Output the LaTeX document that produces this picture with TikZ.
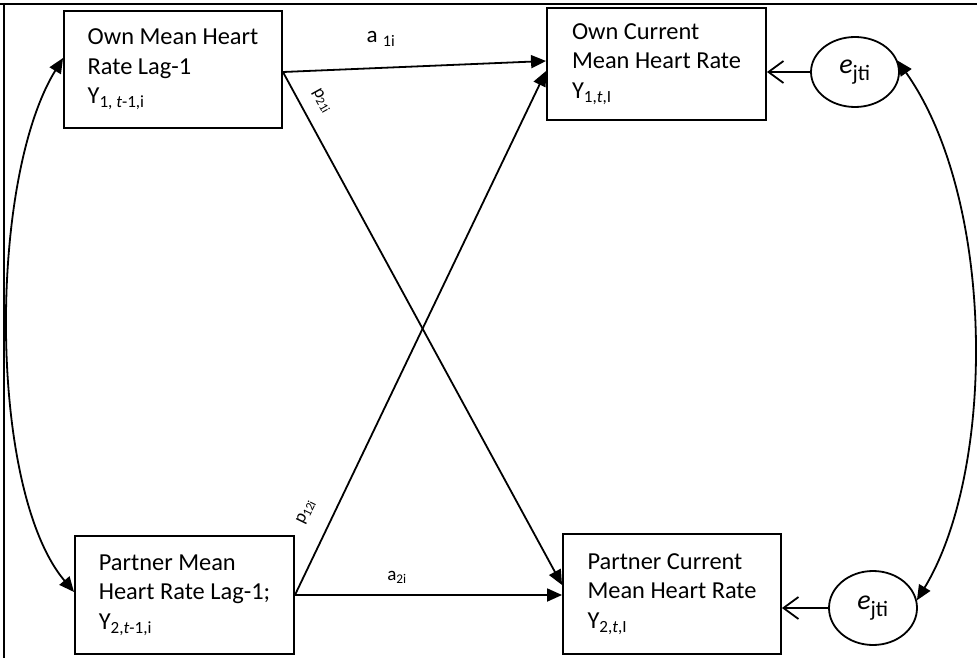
\documentclass[tikz,border=0pt]{standalone}
\usepackage{fontspec}
\setmainfont{Carlito}
\usetikzlibrary{arrows.meta,shapes.geometric}
\begin{document}
\begin{tikzpicture}[x=1pt,y=-1pt,
  box/.style={draw, line width=1.9pt, rectangle, inner sep=0pt, align=left,
    font=\fontsize{24.4}{29.5}\selectfont},
  errnode/.style={draw, ellipse, line width=1.8pt, inner sep=0pt,
    font=\fontsize{24.4}{29.5}\selectfont},
  pathline/.style={line width=1.8pt, -{Triangle[length=15pt,width=13pt]}},
  covline/.style={line width=1.8pt, {Triangle[length=15pt,width=13pt]}-{Triangle[length=15pt,width=13pt]}},
  errline/.style={line width=1.8pt, -{Straight Barb[length=15pt,width=22pt,line width=1.8pt]}},
  lbl/.style={inner sep=0pt},
  frameline/.style={line width=2.6pt}
]
\useasboundingbox (0,0) rectangle (977,658);

% frame
\coordinate (f1) at (0,4);
\coordinate (f2) at (977,4);
\coordinate (f3) at (4,3);
\coordinate (f4) at (4,658);
\draw[frameline] (f1) -- (f2);
\draw[line width=1.8pt] (f3) -- (f4);

% boxes
\node[box, minimum width=218pt, minimum height=117pt] (A) at (173,69.5)
  {Own Mean Heart\\Rate Lag-1\\Y\textsubscript{1, \textit{t}-1,i}};
\node[box, minimum width=219pt, minimum height=118pt] (B) at (184.5,595)
  {Partner Mean\\Heart Rate Lag-1;\\Y\textsubscript{2,\textit{t}-1,i}};
\node[box, minimum width=219pt, minimum height=112pt] (C) at (656.5,64)
  {Own Current\\Mean Heart Rate\\Y\textsubscript{1,\textit{t},I}};
\node[box, minimum width=218pt, minimum height=120pt] (D) at (672,594)
  {Partner Current\\Mean Heart Rate\\Y\textsubscript{2,\textit{t},I}};

% error terms
\node[errnode, minimum width=88pt, minimum height=70pt] (E1) at (855,72)
  {\fontsize{28}{30}\selectfont\textit{e}\textsubscript{\fontsize{22}{24}\selectfont jti}};
\node[errnode, minimum width=88pt, minimum height=74pt] (E2) at (873,608)
  {\fontsize{28}{30}\selectfont\textit{e}\textsubscript{\fontsize{22}{24}\selectfont jti}};

% paths
\draw[pathline] ([yshift=-2.5pt]A.east) -- ([yshift=3pt]C.west);
\draw[pathline] ([yshift=-2.5pt]A.east) -- ([yshift=9pt]D.west);
\draw[pathline] (B.east) -- ([yshift=-7pt]C.west);
\draw[pathline] (B.east) -- ([yshift=-1pt]D.west);

% error arrows
\draw[errline] (E1.west) -- (E1.west -| C.east);
\draw[errline] (E2.west) -- (E2.west -| D.east);

% covariances
\draw[covline] ([yshift=11.5pt]A.west) .. controls (-12,180) and (-12,490) .. ([yshift=3pt]B.west);
\draw[covline] (E1.15) .. controls (996,200) and (996,470) .. (E2.10);

% labels
\node[lbl, font=\fontsize{23}{26}\selectfont] (la1) at (381,39) {a \textsubscript{1i}};
\node[lbl, font=\fontsize{18}{20}\selectfont, rotate=-61] (lp21) at (322,101) {p\textsubscript{21i}};
\node[lbl, font=\fontsize{18}{20}\selectfont, rotate=64] (lp12) at (306,512) {p\textsubscript{12i}};
\node[lbl, font=\fontsize{19}{22}\selectfont] (la2) at (397,577) {a\textsubscript{2i}};
\end{tikzpicture}
\end{document}
